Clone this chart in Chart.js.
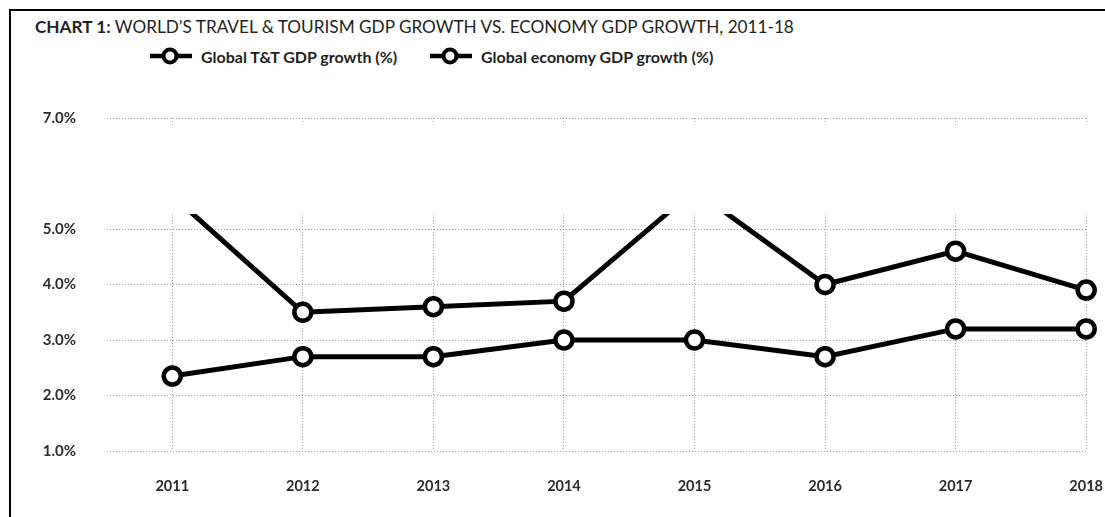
<!DOCTYPE html>
<html>
<head>
<meta charset="utf-8">
<script src="https://cdn.jsdelivr.net/npm/chart.js@4/dist/chart.umd.min.js"></script>
<style>
  html, body { margin: 0; padding: 0; background: #fff; width: 1105px; height: 517px; overflow: hidden; font-family: Lato, "Open Sans", sans-serif; }
  #frame { position: absolute; left: 9px; top: 9px; width: 1200px; height: 600px; border-left: 2px solid #000; border-top: 2px solid #000; }
  #title { position: absolute; left: 35px; top: 16px; font-size: 17.2px; color: #231f20; white-space: nowrap; }
  #title b { font-weight: 700; }
  .leg { position: absolute; top: 45px; display: flex; align-items: center; font-weight: 700; font-size: 16px; color: #231f20; white-space: nowrap; }
  .leg svg { margin-right: 9px; }
  #wrap { position: absolute; left: 0; top: 0; width: 1130px; height: 517px; }
</style>
</head>
<body>
<div id="frame"></div>
<div id="title"><b>CHART 1:</b> WORLD’S TRAVEL &amp; TOURISM GDP GROWTH VS. ECONOMY GDP GROWTH, 2011-18</div>
<div id="legend"></div>
<div id="wrap"><canvas id="chart" width="1130" height="517"></canvas></div>
<script>
// Series
const years = [2011, 2012, 2013, 2014, 2015, 2016, 2017, 2018];
const ttGdpGrowth = [5.6, 3.5, 3.6, 3.7, 5.7, 4.0, 4.6, 3.9];
const economyGdpGrowth = [2.35, 2.7, 2.7, 3.0, 3.0, 2.7, 3.2, 3.2];
const seriesNames = ['Global T&T GDP growth (%)', 'Global economy GDP growth (%)'];
const yTicks = [1, 2, 3, 4, 5, 6, 7];
const hiddenTick = 6;

// Legend entries (line with open circle)
const legendLeft = [150, 430];
const legendEl = document.getElementById('legend');
seriesNames.forEach((name, i) => {
  const d = document.createElement('div');
  d.className = 'leg';
  d.style.left = legendLeft[i] + 'px';
  d.innerHTML = '<svg width="42" height="22"><line x1="0" y1="11" x2="42" y2="11" stroke="#000" stroke-width="4.5"/>' +
    '<circle cx="20" cy="11" r="6.5" fill="#fff" stroke="#000" stroke-width="4"/></svg>';
  const t = document.createElement('span');
  t.textContent = name;
  d.appendChild(t);
  legendEl.appendChild(d);
});

// White band masking the upper part of the plot between two axis values
const breakBand = {
  id: 'breakBand',
  afterDatasetsDraw(chart, args, opts) {
    const { ctx, chartArea, scales } = chart;
    const yTop = scales.y.getPixelForValue(opts.from);
    const yBot = scales.y.getPixelForValue(opts.to);
    ctx.save();
    ctx.fillStyle = '#fff';
    ctx.fillRect(chartArea.left - 1, yTop, chartArea.right - chartArea.left + 14, yBot - yTop);
    ctx.restore();
  }
};

const lineStyle = {
  borderColor: '#000',
  borderWidth: 5,
  pointRadius: 8.5,
  pointHoverRadius: 8.5,
  pointBorderWidth: 4.5,
  pointBackgroundColor: '#fff',
  pointBorderColor: '#000',
  tension: 0,
  clip: false
};

const gridStyle = {
  color: 'rgba(70,70,70,0.5)',
  lineWidth: 1,
  drawTicks: false
};

new Chart(document.getElementById('chart'), {
  type: 'line',
  data: {
    datasets: [
      Object.assign({ label: seriesNames[0], data: years.map((x, i) => ({ x, y: ttGdpGrowth[i] })) }, lineStyle),
      Object.assign({ label: seriesNames[1], data: years.map((x, i) => ({ x, y: economyGdpGrowth[i] })) }, lineStyle)
    ]
  },
  options: {
    responsive: false,
    animation: false,
    events: [],
    layout: { padding: { top: 118, right: 37, bottom: 0, left: 0 } },
    plugins: {
      legend: { display: false },
      tooltip: { enabled: false },
      breakBand: { from: 6.88, to: 5.27 }
    },
    scales: {
      x: {
        type: 'linear',
        min: 2010.5,
        max: 2018,
        afterBuildTicks: s => { s.ticks = years.map(v => ({ value: v })); },
        afterFit: s => { s.height = 66; },
        grid: Object.assign({}, gridStyle),
        border: { display: false, dash: [1, 2] },
        ticks: {
          padding: 27,
          color: '#2b2b2b',
          font: { family: 'Lato', size: 14.5, weight: 'bold' },
          callback: v => String(v),
          maxRotation: 0
        }
      },
      y: {
        min: 1,
        max: 7,
        afterBuildTicks: s => { s.ticks = yTicks.map(v => ({ value: v })); },
        afterFit: s => { s.width = 107; },
        grid: Object.assign({}, gridStyle, {
          color: c => (c.tick && c.tick.value === hiddenTick) ? 'rgba(0,0,0,0)' : gridStyle.color
        }),
        border: { display: false, dash: [1, 2] },
        ticks: {
          padding: 31,
          color: '#2b2b2b',
          font: { family: 'Lato', size: 15, weight: 'bold' },
          callback: v => v === hiddenTick ? '' : v.toFixed(1) + '%'
        }
      }
    }
  },
  plugins: [breakBand]
});
</script>
</body>
</html>
